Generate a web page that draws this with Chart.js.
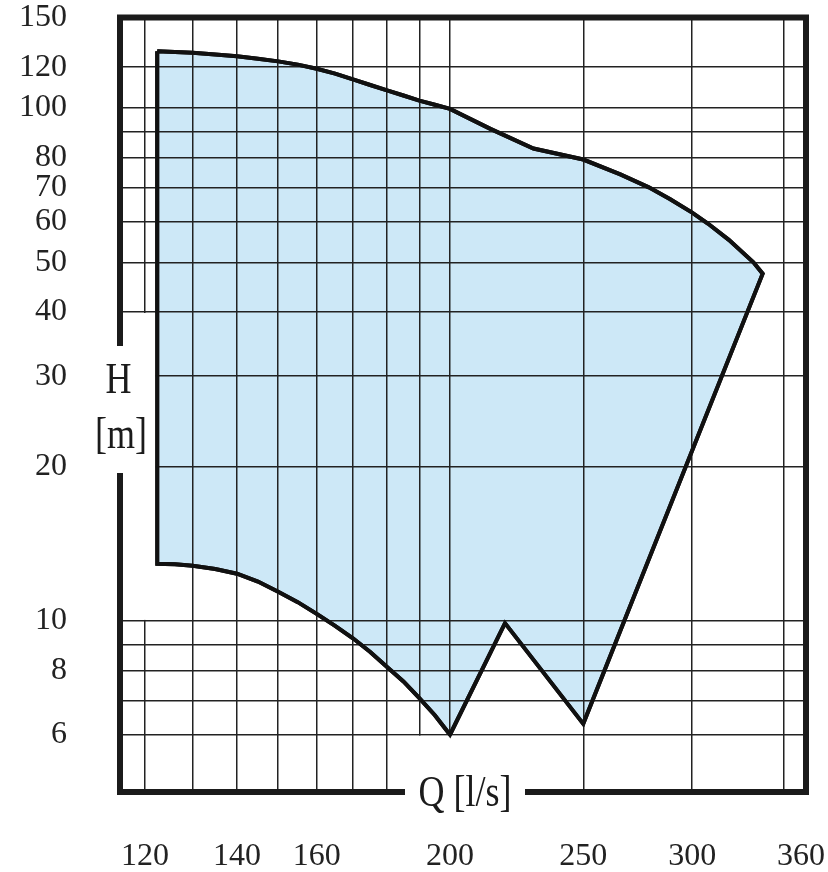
<!DOCTYPE html>
<html>
<head>
<meta charset="utf-8">
<script src="https://cdn.jsdelivr.net/npm/chart.js@4.4.0/dist/chart.umd.min.js"></script>
<style>
  html, body { margin: 0; padding: 0; background: #fff; }
  #wrap { width: 828px; height: 872px; position: relative; }
</style>
</head>
<body>
<div id="wrap"><canvas id="envelopeChart"></canvas></div>
<script>
// Q [l/s] axis
const qGrid = [120, 130, 140, 150, 160, 170, 180, 190, 200, 250, 300, 350];
const qLabels = [120, 140, 160, 200, 250, 300, 360];
// H [m] axis
const hGrid = [6, 7, 8, 9, 10, 20, 30, 40, 50, 60, 70, 80, 90, 100, 120];
const hLabels = [6, 8, 10, 20, 30, 40, 50, 60, 70, 80, 100, 120, 150];

// upper limit of the range, left to right
const upperQ = [122.5, 126.2, 130, 135, 140, 145, 150, 155, 160, 165, 170, 175, 180, 185, 190, 195, 200,
                214, 230, 250, 266, 279, 289, 300, 308, 319, 332.4, 337.6];
const upperH = [128.9, 128.5, 128, 127.1, 126, 124.7, 123.2, 121.4, 119.2, 116.6, 113.6, 110.8, 108.2, 105.7, 103.3, 101.4, 99.55,
                91, 83.3, 79.3, 74.2, 70, 66.4, 62.5, 59.5, 55.3, 50, 47.5];
// right limit down to the notches, then lower limit back to the left
const lowerQ = [250, 219.3, 200, 195, 190, 185, 180, 175, 170, 165, 160, 155, 150, 145, 140, 135, 130, 126.2, 122.5];
const lowerH = [6.3, 9.9, 6, 6.55, 7.07, 7.62, 8.13, 8.7, 9.25, 9.78, 10.32, 10.88, 11.4, 11.93, 12.36, 12.62, 12.81, 12.89, 12.92];

const serif = "'Liberation Serif', 'Times New Roman', serif";
const ink = '#1b1b1b';

const envelope = [];
upperQ.forEach((q, i) => envelope.push({ x: q, y: upperH[i] }));
lowerQ.forEach((q, i) => envelope.push({ x: q, y: lowerH[i] }));
envelope.push({ x: upperQ[0], y: upperH[0] });

const framePlugin = {
    id: 'frame',
    afterDraw(chart) {
        const { ctx, chartArea: a, scales: { x, y } } = chart;
        const L = a.left, R = a.right, T = a.top, B = a.bottom;
        ctx.save();

        // grid is cut out behind the axis titles
        ctx.fillStyle = '#fff';
        const edge = x.getPixelForValue(upperQ[0]);
        const y40 = y.getPixelForValue(40), y10 = y.getPixelForValue(10);
        ctx.fillRect(L, y40 + 1, edge - 2 - L, y10 - y40 - 2);
        const qL = x.getPixelForValue(180) + 1, qR = x.getPixelForValue(250) - 1;
        const y6 = y.getPixelForValue(6);
        ctx.fillRect(qL, y6 + 1, qR - qL, B - y6 - 1);

        // outline back on top of the grid
        chart.getDatasetMeta(0).dataset.draw(ctx, a);

        // thick frame with gaps for the titles
        ctx.strokeStyle = ink;
        ctx.lineWidth = 6;
        ctx.lineCap = 'butt';
        ctx.beginPath();
        ctx.moveTo(L - 3, T); ctx.lineTo(R + 3, T);
        ctx.moveTo(R, T); ctx.lineTo(R, B);
        ctx.moveTo(R + 3, B); ctx.lineTo(L + 405, B);
        ctx.moveTo(L + 285, B); ctx.lineTo(L - 3, B);
        ctx.moveTo(L, B); ctx.lineTo(L, T + 455.5);
        ctx.moveTo(L, T + 328.5); ctx.lineTo(L, T);
        ctx.stroke();

        // titles
        ctx.fillStyle = ink;
        ctx.font = '36px ' + serif;
        ctx.textAlign = 'center';
        ctx.textBaseline = 'alphabetic';
        const tall = (txt, cx, base) => {
            ctx.save();
            ctx.translate(cx, base);
            ctx.scale(1, 1.22);
            ctx.fillText(txt, 0, 0);
            ctx.restore();
        };
        tall('H', L - 1.5, T + 375.5);
        tall('[m]', L + 1, T + 430.5);
        tall('Q [l/s]', L + 345, B + 14);
        ctx.restore();
    }
};

const ctx = document.getElementById('envelopeChart').getContext('2d');
new Chart(ctx, {
    type: 'scatter',
    data: {
        datasets: [{
            data: envelope,
            showLine: true,
            fill: 'shape',
            backgroundColor: '#cde8f7',
            borderColor: '#111',
            borderWidth: 4,
            borderJoinStyle: 'miter',
            tension: 0,
            pointRadius: 0,
            pointHoverRadius: 0
        }]
    },
    options: {
        responsive: true,
        maintainAspectRatio: false,
        animation: false,
        events: [],
        layout: { padding: { top: 17.5, right: 22, bottom: 0, left: 0 } },
        scales: {
            x: {
                type: 'logarithmic',
                position: 'bottom',
                min: 115.1,
                max: 363,
                afterBuildTicks: s => { s.ticks = [...qGrid, 360].map(v => ({ value: v })); },
                afterFit: s => {
                    s.height = 80;
                    s.paddingLeft = 0;
                    s.paddingRight = 0;
                },
                grid: {
                    z: 1,
                    color: c => (c.tick && c.tick.value === 360) ? 'rgba(0,0,0,0)' : '#222',
                    lineWidth: 1.5,
                    drawTicks: false
                },
                border: { display: false },
                ticks: {
                    autoSkip: false,
                    maxRotation: 0,
                    padding: 45,
                    color: '#222',
                    font: { family: serif, size: 32 },
                    callback: v => qLabels.includes(v) ? String(v) : ''
                }
            },
            y: {
                type: 'logarithmic',
                position: 'left',
                min: 4.64,
                max: 150,
                afterBuildTicks: s => { s.ticks = [...hGrid, 150].map(v => ({ value: v })); },
                afterFit: s => {
                    s.width = 120;
                    s.paddingTop = 0;
                    s.paddingBottom = 0;
                },
                grid: {
                    z: 1,
                    color: c => (c.tick && c.tick.value === 150) ? 'rgba(0,0,0,0)' : '#222',
                    lineWidth: 1.5,
                    drawTicks: false
                },
                border: { display: false },
                ticks: {
                    autoSkip: false,
                    padding: 53,
                    color: '#222',
                    font: { family: serif, size: 32 },
                    callback: v => hLabels.includes(v) ? String(v) : ''
                }
            }
        },
        plugins: {
            legend: { display: false },
            tooltip: { enabled: false }
        }
    },
    plugins: [framePlugin]
});
</script>
</body>
</html>
